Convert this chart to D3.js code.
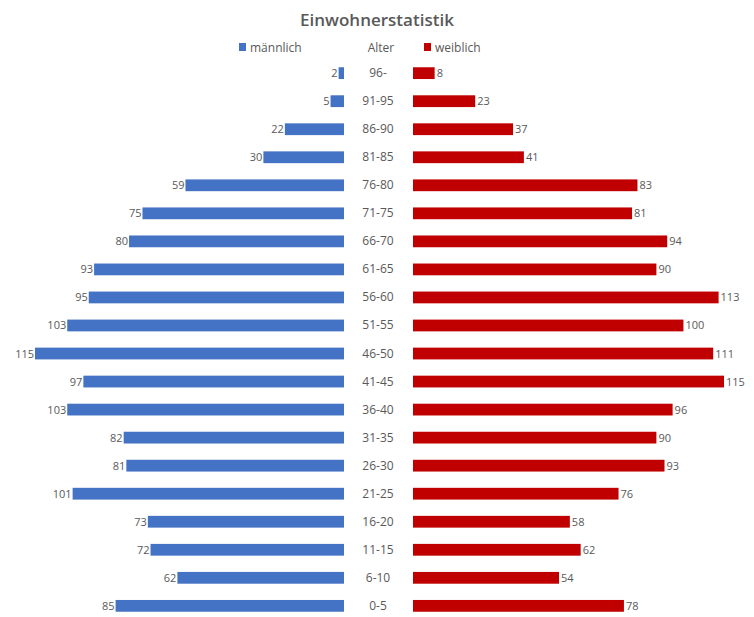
<!DOCTYPE html>
<html>
<head>
<meta charset="utf-8">
<script src="https://d3js.org/d3.v7.min.js"></script>
<style>
  body { margin: 0; background: #fff; }
  text { font-family: "Open Sans", "Noto Sans", sans-serif; fill: #595959; }
</style>
</head>
<body>
<div id="chart"></div>
<script>
// age groups, top to bottom
var ageGroups = ["96-", "91-95", "86-90", "81-85", "76-80", "71-75", "66-70", "61-65",
  "56-60", "51-55", "46-50", "41-45", "36-40", "31-35", "26-30", "21-25",
  "16-20", "11-15", "6-10", "0-5"];
var male   = [2, 5, 22, 30, 59, 75, 80, 93, 95, 103, 115, 97, 103, 82, 81, 101, 73, 72, 62, 85];
var female = [8, 23, 37, 41, 83, 81, 94, 90, 113, 100, 111, 115, 96, 90, 93, 76, 58, 62, 54, 78];

var W = 754, H = 617;
var blue = "#4472C4", red = "#C00000";

var svg = d3.select("#chart").append("svg")
  .attr("width", W).attr("height", H);

var y = d3.scaleBand().domain(ageGroups).range([51, 628]).padding(0.58);
var xm = d3.scaleLinear().domain([0, 115]).range([344, 35]);
var xf = d3.scaleLinear().domain([0, 115]).range([413, 724]);

// title
svg.append("text")
  .attr("x", 377).attr("y", 26)
  .attr("text-anchor", "middle")
  .style("font-size", "17px")
  .style("font-weight", "600")
  .text("Einwohnerstatistik");

// legend
svg.append("rect").attr("x", 239).attr("y", 43).attr("width", 7).attr("height", 8).attr("fill", blue);
svg.append("text").attr("x", 250).attr("y", 52).style("font-size", "12px").text("männlich");
svg.append("text").attr("x", 381).attr("y", 52).attr("text-anchor", "middle").style("font-size", "12px").text("Alter");
svg.append("rect").attr("x", 424).attr("y", 43).attr("width", 7).attr("height", 8).attr("fill", red);
svg.append("text").attr("x", 435).attr("y", 52).style("font-size", "12px").text("weiblich");

// male bars
svg.selectAll(".m").data(male).enter().append("rect")
  .attr("class", "m")
  .attr("x", function(d) { return xm(d); })
  .attr("y", function(d, i) { return y(ageGroups[i]); })
  .attr("width", function(d) { return xm(0) - xm(d); })
  .attr("height", y.bandwidth())
  .attr("fill", blue);

svg.selectAll(".ml").data(male).enter().append("text")
  .attr("class", "ml")
  .attr("x", function(d) { return xm(d) - 1; })
  .attr("y", function(d, i) { return y(ageGroups[i]) + y.bandwidth() / 2 + 4; })
  .attr("text-anchor", "end")
  .style("font-size", "11px")
  .text(function(d) { return d; });

// female bars
svg.selectAll(".f").data(female).enter().append("rect")
  .attr("class", "f")
  .attr("x", xf(0))
  .attr("y", function(d, i) { return y(ageGroups[i]); })
  .attr("width", function(d) { return xf(d) - xf(0); })
  .attr("height", y.bandwidth())
  .attr("fill", red);

svg.selectAll(".fl").data(female).enter().append("text")
  .attr("class", "fl")
  .attr("x", function(d) { return xf(d) + 2; })
  .attr("y", function(d, i) { return y(ageGroups[i]) + y.bandwidth() / 2 + 4; })
  .style("font-size", "11px")
  .text(function(d) { return d; });

// age labels in the middle
svg.selectAll(".age").data(ageGroups).enter().append("text")
  .attr("class", "age")
  .attr("x", 378)
  .attr("y", function(d) { return y(d) + y.bandwidth() / 2 + 4; })
  .attr("text-anchor", "middle")
  .style("font-size", "12px")
  .text(function(d) { return d; });
</script>
</body>
</html>
